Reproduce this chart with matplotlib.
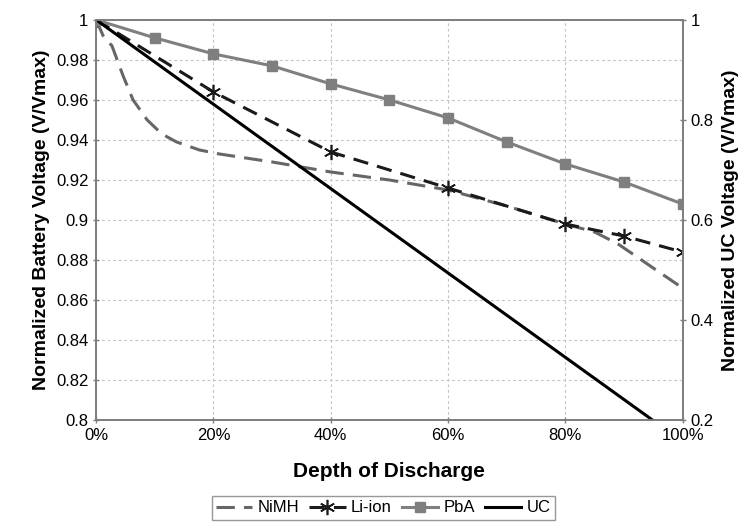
import numpy as np
import matplotlib
matplotlib.use('Agg')
import matplotlib.pyplot as plt
from matplotlib.ticker import FuncFormatter

plt.rcParams['font.family'] = ['Liberation Sans', 'DejaVu Sans']

# Data (depth of discharge in %)
pba_x = [0, 10, 20, 30, 40, 50, 60, 70, 80, 90, 100]
pba_y = [1.0, 0.991, 0.983, 0.977, 0.968, 0.960, 0.951, 0.939, 0.928, 0.919, 0.908]

liion_x = [0, 20, 40, 60, 80, 90, 100]
liion_y = [1.0, 0.964, 0.934, 0.916, 0.898, 0.892, 0.884]

nimh_x = [0, 1.2, 2.7, 4.6, 6.3, 8.7, 11.2, 13.7, 17.6, 21, 30, 40, 50, 60,
          70, 80, 85, 89, 94, 100]
nimh_y = [1.0, 0.992, 0.987, 0.972, 0.960, 0.950, 0.943, 0.939, 0.935, 0.933,
          0.929, 0.924, 0.920, 0.915, 0.907, 0.898, 0.894, 0.888, 0.878, 0.866]

uc_x = [0, 100]
uc_y = [1.0, 0.157]

gray = '#7f7f7f'

fig = plt.figure(figsize=(7.51, 5.22), dpi=100)
ax = fig.add_axes([0.128, 0.195, 0.781, 0.767])
ax2 = ax.twinx()

ax.plot(nimh_x, nimh_y, color='#666666', lw=2.2, dashes=(6, 3), label='NiMH')
ax.plot(liion_x, liion_y, color='#1a1a1a', lw=2.2, dashes=(5, 3), marker=(6, 2, 0),
        ms=11, mew=1.2, label='Li-ion')
ax.plot(pba_x, pba_y, color=gray, lw=2.2, marker='s', ms=6.5, label='PbA')
ax2.plot(uc_x, uc_y, color='black', lw=2.2, label='UC')

ax.set_xlim(0, 100)
ax.set_ylim(0.8, 1.0)
ax2.set_ylim(0.2, 1.0)
ax.set_xticks([0, 20, 40, 60, 80, 100])
ax.xaxis.set_major_formatter(FuncFormatter(lambda v, p: '%d%%' % v))
ax.set_yticks(np.arange(0.8, 1.001, 0.02))
ax.yaxis.set_major_formatter(FuncFormatter(lambda v, p: ('%g' % round(v, 2))))
ax2.set_yticks([0.2, 0.4, 0.6, 0.8, 1.0])
ax2.yaxis.set_major_formatter(FuncFormatter(lambda v, p: ('%g' % round(v, 1))))

ax.grid(True, color='#c4c4c4', linestyle=(0, (2.5, 2.5)), lw=0.8)
for a in (ax, ax2):
    for s in a.spines.values():
        s.set_color(gray)
        s.set_linewidth(1.3)
    a.tick_params(labelsize=12, color=gray, length=4, width=1, direction='inout')

ax.set_xlabel('Depth of Discharge', fontsize=15, fontweight='bold', labelpad=14)
ax.set_ylabel('Normalized Battery Voltage (V/Vmax)', fontsize=14, fontweight='bold', labelpad=4)
ax2.set_ylabel('Normalized UC Voltage (V/Vmax)', fontsize=14, fontweight='bold', labelpad=6)

h1, l1 = ax.get_legend_handles_labels()
h2, l2 = ax2.get_legend_handles_labels()
leg = fig.legend(h1 + h2, l1 + l2, loc='center', bbox_to_anchor=(0.51, 0.027),
                 ncol=4, fontsize=12, frameon=True, fancybox=False,
                 handlelength=2.2, handletextpad=0.3, columnspacing=0.6,
                 borderpad=0.25)
leg.get_frame().set_edgecolor(gray)
leg.get_frame().set_linewidth(1.0)

fig.savefig('out.png', dpi=100)
